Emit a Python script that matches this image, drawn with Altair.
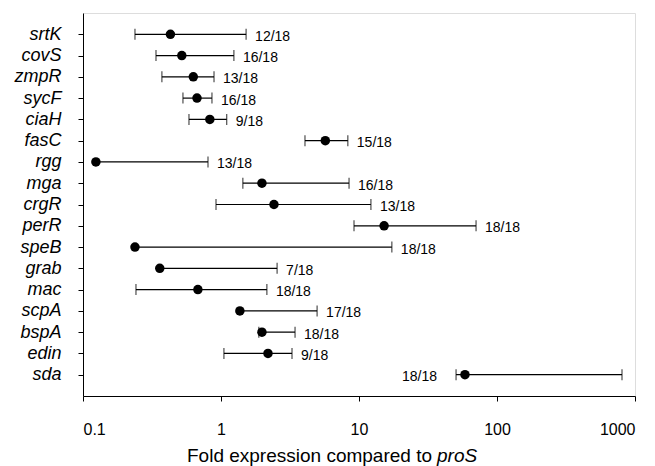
import altair as alt
import pandas as pd

genes = ["srtK", "covS", "zmpR", "sycF", "ciaH", "fasC", "rgg", "mga", "crgR",
         "perR", "speB", "grab", "mac", "scpA", "bspA", "edin", "sda"]
fold = [0.43, 0.52, 0.63, 0.67, 0.83, 5.7, 0.124, 1.98, 2.42,
        15.2, 0.238, 0.36, 0.68, 1.37, 1.98, 2.19, 58.6]
low = [0.238, 0.338, 0.373, 0.53, 0.586, 4.06, None, 1.44, 0.92,
       9.2, None, None, 0.242, None, 1.88, 1.05, 50.5]
high = [1.52, 1.24, 0.89, 0.86, 1.10, 8.3, 0.805, 8.47, 12.2,
        70.5, 17.3, 2.55, 2.15, 4.97, 3.44, 3.27, 805]
counts = ["12/18", "16/18", "13/18", "16/18", "9/18", "15/18", "13/18", "16/18", "13/18",
          "18/18", "18/18", "7/18", "18/18", "17/18", "18/18", "9/18", "18/18"]
left_labelled = ["sda"]
tick_values = [0.1, 1, 10, 100, 1000]

df = pd.DataFrame({
    "gene": genes, "fold": fold, "low": low, "high": high, "count": counts,
})
df["line_lo"] = [l if l is not None else f for l, f in zip(low, fold)]
df["left"] = df["gene"].isin(left_labelled)

FONT = "Liberation Sans"
xscale = alt.Scale(type="log", domain=[0.1, 1000], nice=False)
yenc = alt.Y("gene:N", sort=genes,
             scale=alt.Scale(type="point", padding=1),
             axis=alt.Axis(title=None, labelFontStyle="italic", labelFont=FONT,
                           labelFontSize=18, labelColor="black", labelPadding=17,
                           tickSize=5, tickColor="black", domainColor="black",
                           grid=False))

base = alt.Chart(df)

whisk = base.mark_rule(color="black", strokeWidth=1.2).encode(
    x=alt.X("line_lo:Q", scale=xscale,
            axis=alt.Axis(title=None, values=tick_values, labelExpr="datum.value + ''",
                          labelFont=FONT, labelFontSize=16, labelColor="black",
                          labelPadding=20, tickSize=5, tickColor="black",
                          domainColor="black", grid=False)),
    x2="high:Q",
    y=yenc,
)

cap_hi = base.mark_tick(color="black", thickness=1.2, size=11).encode(
    x=alt.X("high:Q", scale=xscale), y=alt.Y("gene:N", sort=genes))
cap_lo = base.transform_filter("isValid(datum.low)").mark_tick(
    color="black", thickness=1.2, size=11).encode(
    x=alt.X("low:Q", scale=xscale), y=alt.Y("gene:N", sort=genes))

pts = base.mark_point(filled=True, color="black", opacity=1, size=90).encode(
    x=alt.X("fold:Q", scale=xscale), y=alt.Y("gene:N", sort=genes))

lab_r = base.transform_filter("!datum.left").mark_text(
    align="left", baseline="middle", dx=9, dy=2.5, font=FONT, fontSize=14,
    color="black").encode(
    x=alt.X("high:Q", scale=xscale), y=alt.Y("gene:N", sort=genes), text="count:N")
lab_l = base.transform_filter("datum.left").mark_text(
    align="right", baseline="middle", dx=-19, dy=2.5, font=FONT, fontSize=14,
    color="black").encode(
    x=alt.X("low:Q", scale=xscale), y=alt.Y("gene:N", sort=genes), text="count:N")

t1 = alt.Chart(pd.DataFrame({"t": ["Fold expression compared to"]})).mark_text(
    align="right", baseline="middle", font=FONT, fontSize=19, color="black").encode(
    text="t:N", x=alt.value(349), y=alt.value(443))
t2 = alt.Chart(pd.DataFrame({"t": ["proS"]})).mark_text(
    align="left", baseline="middle", font=FONT, fontSize=19, fontStyle="italic",
    color="black").encode(
    text="t:N", x=alt.value(354), y=alt.value(443))

chart = alt.layer(whisk, cap_hi, cap_lo, pts, lab_r, lab_l, t1, t2).properties(
    width=552, height=383,
    autosize=alt.AutoSizeParams(type="none"),
    padding={"left": 75, "top": 5, "right": 12, "bottom": 70},
).configure_view(stroke="black", strokeWidth=1).configure(background="white")

chart.save("out.html", embed_options={"renderer": "svg", "actions": False})
